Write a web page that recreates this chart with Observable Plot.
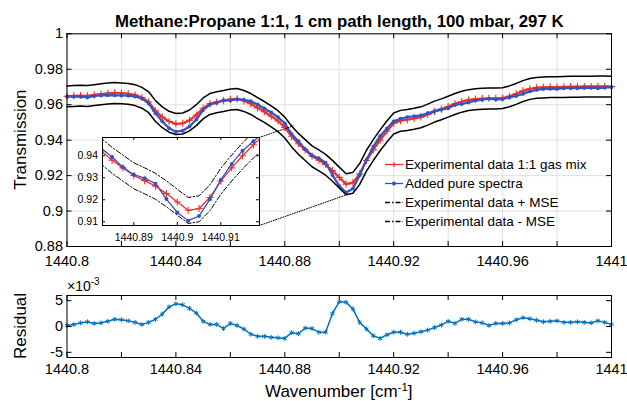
<!DOCTYPE html>
<html>
<head>
<meta charset="utf-8">
<script src="https://cdn.jsdelivr.net/npm/d3@7"></script>
<script src="https://cdn.jsdelivr.net/npm/@observablehq/plot@0.6"></script>
<style>
  body { margin: 0; background: #fff; }
  #wrap { position: relative; width: 627px; height: 401px; overflow: hidden; background: #fff; }
  #wrap > svg { position: absolute; }
</style>
</head>
<body>
<div id="wrap"></div>
<script>
// ---------------- data ----------------
const titleText = "Methane:Propane 1:1, 1 cm path length, 100 mbar, 297 K";
const yLabelMain = "Transmission";
const yLabelResidual = "Residual";
const legendLabels = ["Experimental data 1:1 gas mix", "Added pure spectra", "Experimental data + MSE", "Experimental data - MSE"];

// wavenumber grid: 1440.8 ... 1441.0 in steps of 0.0025 cm^-1 (81 samples)
const wavenumber = d3.range(81).map(i => +(1440.8 + i * 0.0025).toFixed(4));

const experimental = [
  0.9648,0.9650,0.9652,0.9650,0.9655,0.9660,0.9664,0.9667,0.9665,0.9662,
  0.9655,0.9640,0.9615,0.9565,0.9530,0.9505,0.9492,0.9495,0.9512,0.9542,
  0.9580,0.9605,0.9615,0.9622,0.9630,0.9633,0.9622,0.9605,0.9582,0.9560,
  0.9535,0.9508,0.9472,0.9422,0.9380,0.9345,0.9310,0.9287,0.9262,0.9228,
  0.9190,0.9152,0.9160,0.9210,0.9285,0.9345,0.9400,0.9450,0.9495,0.9510,
  0.9515,0.9522,0.9530,0.9545,0.9562,0.9575,0.9590,0.9605,0.9618,0.9627,
  0.9632,0.9635,0.9636,0.9636,0.9638,0.9648,0.9662,0.9678,0.9690,0.9696,
  0.9698,0.9700,0.9700,0.9701,0.9702,0.9702,0.9703,0.9703,0.9704,0.9704,
  0.9703];

const addedPure = [
  0.9646,0.9646,0.9645,0.9641,0.9649,0.9653,0.9654,0.9653,0.9652,0.9651,
  0.9647,0.9636,0.9607,0.9551,0.9506,0.9467,0.9448,0.9453,0.9477,0.9516,
  0.9570,0.9601,0.9611,0.9626,0.9624,0.9631,0.9627,0.9620,0.9601,0.9579,
  0.9556,0.9530,0.9495,0.9434,0.9394,0.9348,0.9314,0.9298,0.9273,0.9203,
  0.9142,0.9105,0.9126,0.9202,0.9290,0.9363,0.9423,0.9466,0.9506,0.9521,
  0.9530,0.9535,0.9540,0.9552,0.9564,0.9572,0.9580,0.9599,0.9604,0.9613,
  0.9623,0.9628,0.9634,0.9630,0.9632,0.9641,0.9649,0.9661,0.9675,0.9684,
  0.9689,0.9690,0.9689,0.9693,0.9694,0.9693,0.9695,0.9696,0.9693,0.9696,
  0.9699];

const expPlusMSE = [
  0.9706,0.9708,0.9710,0.9708,0.9713,0.9718,0.9722,0.9725,0.9723,0.9720,
  0.9713,0.9698,0.9673,0.9623,0.9588,0.9563,0.9550,0.9553,0.9570,0.9600,
  0.9638,0.9663,0.9673,0.9680,0.9688,0.9691,0.9680,0.9663,0.9640,0.9618,
  0.9593,0.9566,0.9530,0.9480,0.9438,0.9403,0.9368,0.9345,0.9320,0.9286,
  0.9248,0.9210,0.9218,0.9268,0.9343,0.9403,0.9458,0.9508,0.9553,0.9568,
  0.9573,0.9580,0.9588,0.9603,0.9620,0.9633,0.9648,0.9663,0.9676,0.9685,
  0.9690,0.9693,0.9694,0.9694,0.9696,0.9706,0.9720,0.9736,0.9748,0.9754,
  0.9756,0.9758,0.9758,0.9759,0.9760,0.9760,0.9761,0.9761,0.9762,0.9762,
  0.9761];

const expMinusMSE = [
  0.9588,0.9590,0.9592,0.9590,0.9595,0.9600,0.9604,0.9607,0.9605,0.9602,
  0.9595,0.9580,0.9555,0.9505,0.9470,0.9445,0.9432,0.9435,0.9452,0.9482,
  0.9520,0.9545,0.9555,0.9562,0.9570,0.9573,0.9562,0.9545,0.9522,0.9500,
  0.9475,0.9448,0.9412,0.9362,0.9320,0.9285,0.9250,0.9227,0.9202,0.9168,
  0.9130,0.9092,0.9100,0.9150,0.9225,0.9285,0.9340,0.9390,0.9435,0.9450,
  0.9455,0.9462,0.9470,0.9485,0.9502,0.9515,0.9530,0.9545,0.9558,0.9567,
  0.9572,0.9575,0.9576,0.9576,0.9578,0.9588,0.9602,0.9618,0.9630,0.9636,
  0.9638,0.9640,0.9640,0.9641,0.9642,0.9642,0.9643,0.9643,0.9644,0.9644,
  0.9643];

// residual in units of 1e-3
const residual = [
  0.2,0.4,0.7,0.9,0.6,0.7,1.0,1.4,1.3,1.1,
  0.8,0.4,0.8,1.4,2.4,3.8,4.4,4.2,3.5,2.6,
  1.0,0.4,0.4,-0.4,0.6,0.2,-0.5,-1.5,-1.9,-1.9,
  -2.1,-2.2,-2.3,-1.2,-1.4,-0.3,-0.4,-1.1,-1.1,2.5,
  4.8,4.7,3.4,0.8,-0.5,-1.8,-2.3,-1.6,-1.1,-1.1,
  -1.5,-1.3,-1.0,-0.7,-0.2,0.3,1.0,0.6,1.4,1.4,
  0.9,0.7,0.2,0.6,0.6,0.7,1.3,1.7,1.5,1.2,
  0.9,1.0,1.1,0.8,0.8,0.9,0.8,0.7,1.1,0.8,
  0.4];

// ticks
const xTicks = [1440.8,1440.82,1440.84,1440.86,1440.88,1440.9,1440.92,1440.94,1440.96,1440.98,1441];
const xTickLabels = [1440.8,1440.84,1440.88,1440.92,1440.96,1441];
const yTicksMain = [0.88,0.9,0.92,0.94,0.96,0.98,1];
const yTicksResidual = [-5,0,5];
const insetXTicks = [1440.89,1440.9,1440.91];
const insetYTicks = [0.91,0.92,0.93,0.94];

// zoom connector lines (main-plot data coordinates: inset corner -> zoomed spot)
const connectors = [
  {id: "top", w: 1440.8706, v: 0.9415}, {id: "top", w: 1440.8830, v: 0.9480},
  {id: "bottom", w: 1440.8706, v: 0.8918}, {id: "bottom", w: 1440.9020, v: 0.9088}
];

// ---------------- build ----------------
const rows = wavenumber.map((w, i) => ({
  w, exp: experimental[i], added: addedPure[i], up: expPlusMSE[i], lo: expMinusMSE[i], res: residual[i]
}));

const font = "'Liberation Sans', Arial, Helvetica, sans-serif";
const RED = "#ec2f2c", BLUE = "#3553c0", RESID = "#0072BD", GRID = "#e1e1e1";
const TICK_FS = 14.5, LABEL_FS = 17;
const W = 627;
const wrap = document.getElementById("wrap");

// main panel
const mM = {top: 33.3, right: 16, bottom: 24, left: 66.5};
const mH = 270;
const mPH = mH - mM.top - mM.bottom;
const mPW = W - mM.left - mM.right;

const main = Plot.plot({
  width: W, height: mH,
  marginTop: mM.top, marginRight: mM.right, marginBottom: mM.bottom, marginLeft: mM.left,
  style: {fontFamily: font, fontSize: TICK_FS + "px", background: "transparent", color: "black"},
  x: {domain: [1440.8, 1441], axis: null},
  y: {domain: [0.88, 1], axis: null},
  marks: [
    Plot.ruleX(xTicks, {stroke: GRID}),
    Plot.ruleY(yTicksMain, {stroke: GRID}),
    Plot.line(rows, {x: "w", y: "exp", stroke: RED, strokeWidth: 2.2}),
    Plot.dot(rows, {x: "w", y: "exp", symbol: "plus", r: 2.4, stroke: RED, strokeWidth: 1.1}),
    Plot.line(rows, {x: "w", y: "added", stroke: BLUE, strokeWidth: 2.2}),
    Plot.dot(rows, {x: "w", y: "added", r: 1.9, fill: BLUE, stroke: "none"}),
    Plot.line(rows, {x: "w", y: "up", stroke: "black", strokeWidth: 1.5}),
    Plot.line(rows, {x: "w", y: "lo", stroke: "black", strokeWidth: 1.5}),
    Plot.line(connectors, {x: "w", y: "v", z: "id", stroke: "black", strokeWidth: 1, strokeDasharray: "1,1.5"}),
    Plot.ruleX(xTicks, {stroke: "black", insetBottom: mPH - 5}),
    Plot.ruleX(xTicks, {stroke: "black", insetTop: mPH - 5}),
    Plot.ruleY(yTicksMain, {stroke: "black", insetRight: mPW - 5}),
    Plot.ruleY(yTicksMain, {stroke: "black", insetLeft: mPW - 5}),
    Plot.frame({stroke: "black", strokeWidth: 1}),
    Plot.text(xTickLabels, {x: d => d, text: d => String(d), frameAnchor: "bottom", lineAnchor: "top", dy: 9, fontSize: TICK_FS}),
    Plot.text(yTicksMain, {y: d => d, text: d => String(d), frameAnchor: "left", textAnchor: "end", dx: -4, fontSize: TICK_FS}),
    Plot.text([titleText], {frameAnchor: "top", dy: -19, fontWeight: "bold", fontSize: 16.8})
  ]
});
main.style.left = "0px"; main.style.top = "0px";
wrap.appendChild(main);

const ms = d3.select(main);
ms.append("text").attr("transform", `translate(20,${mM.top + mPH / 2}) rotate(-90)`)
  .attr("text-anchor", "middle").attr("dy", "0.35em").attr("font-family", font)
  .attr("font-size", LABEL_FS).attr("fill", "black").text(yLabelMain);

// legend (inside main panel)
const lg = ms.append("g").attr("font-family", font).attr("font-size", 13.5).attr("text-anchor", "start");
const legendStyles = [
  {color: RED, dash: null, marker: "plus"},
  {color: BLUE, dash: null, marker: "dot"},
  {color: "black", dash: "5,2,1.5,2", marker: null},
  {color: "black", dash: "5,2,1.5,2", marker: null}
];
legendLabels.forEach((label, i) => {
  const y = 164.5 + i * 19;
  const s = legendStyles[i];
  lg.append("line").attr("x1", 385).attr("x2", 403).attr("y1", y).attr("y2", y)
    .attr("stroke", s.color).attr("stroke-width", 1.3).attr("stroke-dasharray", s.dash);
  if (s.marker === "plus") {
    lg.append("path").attr("d", "M-2.5,0H2.5M0,-2.5V2.5").attr("transform", `translate(394,${y})`)
      .attr("stroke", s.color).attr("stroke-width", 1.1);
  } else if (s.marker === "dot") {
    lg.append("circle").attr("cx", 394).attr("cy", y).attr("r", 2).attr("fill", s.color);
  }
  lg.append("text").attr("x", 405).attr("y", y).attr("dy", "0.35em").attr("text-anchor", "start")
    .attr("fill", "black").text(label);
});

// inset
const iM = {top: 2, right: 3, bottom: 20, left: 32};
const iPW = 157, iPH = 88;
const inset = Plot.plot({
  width: iPW + iM.left + iM.right, height: iPH + iM.top + iM.bottom,
  marginTop: iM.top, marginRight: iM.right, marginBottom: iM.bottom, marginLeft: iM.left,
  style: {fontFamily: font, fontSize: "10.5px", background: "transparent", color: "black"},
  x: {domain: [1440.8828, 1440.9189], axis: null},
  y: {domain: [0.9083, 0.9483], axis: null},
  marks: [
    Plot.frame({fill: "white", stroke: "none"}),
    Plot.line(rows, {x: "w", y: "exp", stroke: RED, strokeWidth: 1.3, clip: true}),
    Plot.dot(rows, {x: "w", y: "exp", symbol: "plus", r: 2.4, stroke: RED, strokeWidth: 1.1, clip: true}),
    Plot.line(rows, {x: "w", y: "added", stroke: BLUE, strokeWidth: 1.3, clip: true}),
    Plot.dot(rows, {x: "w", y: "added", r: 2, fill: BLUE, stroke: "none", clip: true}),
    Plot.line(rows, {x: "w", y: "up", stroke: "black", strokeWidth: 1, strokeDasharray: "5,2,1.5,2", clip: true}),
    Plot.line(rows, {x: "w", y: "lo", stroke: "black", strokeWidth: 1, strokeDasharray: "5,2,1.5,2", clip: true}),
    Plot.ruleX(insetXTicks, {stroke: "black", insetBottom: iPH - 3}),
    Plot.ruleX(insetXTicks, {stroke: "black", insetTop: iPH - 3}),
    Plot.ruleY(insetYTicks, {stroke: "black", insetRight: iPW - 3}),
    Plot.ruleY(insetYTicks, {stroke: "black", insetLeft: iPW - 3}),
    Plot.frame({stroke: "black", strokeWidth: 1}),
    Plot.text(insetXTicks, {x: d => d, text: d => String(d), frameAnchor: "bottom", lineAnchor: "top", dy: 8}),
    Plot.text(insetYTicks, {y: d => d, text: d => String(d), frameAnchor: "left", textAnchor: "end", dx: -4.5})
  ]
});
inset.style.left = (102 - iM.left) + "px";
inset.style.top = (137 - iM.top) + "px";
wrap.appendChild(inset);

// residual panel
const rM = {top: 25, right: 16, bottom: 44, left: 66.5};
const rH = 131;
const rPH = rH - rM.top - rM.bottom;
const rPW = W - rM.left - rM.right;
const resid = Plot.plot({
  width: W, height: rH,
  marginTop: rM.top, marginRight: rM.right, marginBottom: rM.bottom, marginLeft: rM.left,
  style: {fontFamily: font, fontSize: TICK_FS + "px", background: "transparent", color: "black"},
  x: {domain: [1440.8, 1441], axis: null},
  y: {domain: [-6, 6], axis: null},
  marks: [
    Plot.line(rows, {x: "w", y: "res", stroke: RESID, strokeWidth: 1.5}),
    Plot.dot(rows, {x: "w", y: "res", symbol: "asterisk", r: 2.3, stroke: RESID, strokeWidth: 1}),
    Plot.ruleX(xTicks, {stroke: "black", insetBottom: rPH - 5}),
    Plot.ruleX(xTicks, {stroke: "black", insetTop: rPH - 5}),
    Plot.ruleY(yTicksResidual, {stroke: "black", insetRight: rPW - 5}),
    Plot.ruleY(yTicksResidual, {stroke: "black", insetLeft: rPW - 5}),
    Plot.frame({stroke: "black", strokeWidth: 1}),
    Plot.text(xTickLabels, {x: d => d, text: d => String(d), frameAnchor: "bottom", lineAnchor: "top", dy: 6, fontSize: TICK_FS}),
    Plot.text(yTicksResidual, {y: d => d, text: d => String(d), frameAnchor: "left", textAnchor: "end", dx: -4, fontSize: TICK_FS})
  ]
});
resid.style.left = "0px"; resid.style.top = mH + "px";
wrap.appendChild(resid);

// axis labels, exponent label (with superscripts)
const rs = d3.select(resid);
rs.append("text").attr("transform", `translate(20,${rM.top + rPH / 2}) rotate(-90)`)
  .attr("text-anchor", "middle").attr("dy", "0.35em").attr("font-family", font)
  .attr("font-size", LABEL_FS).attr("fill", "black").text(yLabelResidual);
const expo = rs.append("text").attr("x", 67).attr("y", 21).attr("text-anchor", "start")
  .attr("font-family", font).attr("font-size", 14).attr("fill", "black");
expo.append("tspan").text("\u00d710");
expo.append("tspan").attr("dy", -6).attr("font-size", 10).text("-3");
const xl = rs.append("text").attr("x", mM.left + mPW / 2).attr("y", 127).attr("text-anchor", "middle")
  .attr("font-family", font).attr("font-size", LABEL_FS).attr("fill", "black");
xl.append("tspan").text("Wavenumber [cm");
xl.append("tspan").attr("dy", -6).attr("font-size", 11.5).text("-1");
xl.append("tspan").attr("dy", 6).text("]");
</script>
</body>
</html>
